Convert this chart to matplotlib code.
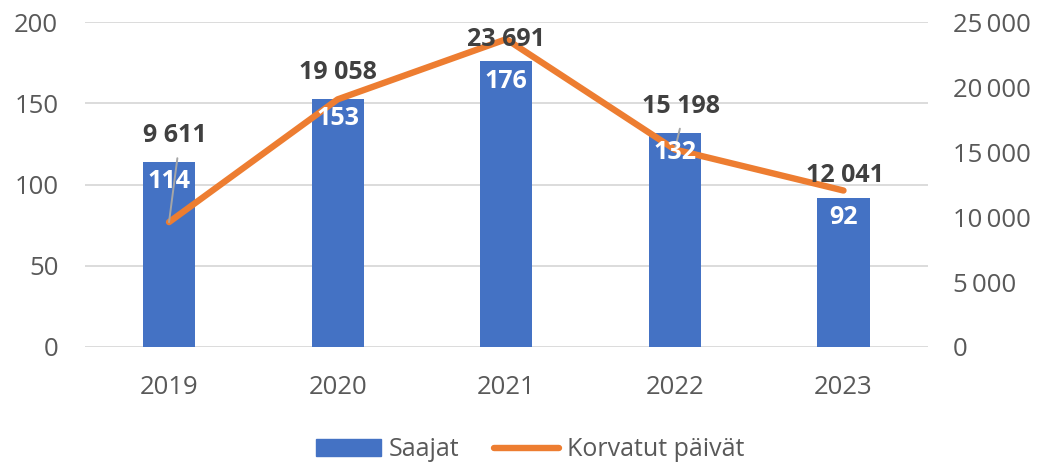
import matplotlib
matplotlib.use("Agg")
import matplotlib.pyplot as plt
from matplotlib.patches import Patch
from matplotlib.lines import Line2D

years = ["2019", "2020", "2021", "2022", "2023"]
saajat = [114, 153, 176, 132, 92]
korvatut = [9611, 19058, 23691, 15198, 12041]

plt.rcParams['font.family'] = ['Open Sans', 'DejaVu Sans']

BLUE = "#4472C4"
ORANGE = "#ED7D31"
GRAY = "#595959"
DARK = "#404040"

fig = plt.figure(figsize=(10.46, 4.62), dpi=100)
ax = fig.add_axes([0.081, 0.249, 0.806, 0.703])
ax2 = ax.twinx()

x = list(range(len(years)))
ax.bar(x, saajat, width=0.31, color=BLUE, zorder=2)
ax.set_ylim(0, 200)
ax.set_yticks([0, 50, 100, 150, 200])
ax.set_xlim(-0.5, len(years) - 0.5)
ax.set_xticks(x)
ax.set_xticklabels(years)
ax.grid(axis="y", color="#D9D9D9", linewidth=1.3, zorder=0)
ax.set_axisbelow(True)
for s in ax.spines.values():
    s.set_visible(False)
for s in ax2.spines.values():
    s.set_visible(False)
ax.tick_params(axis="y", length=0, labelsize=18.5, labelcolor=GRAY, pad=19)
ax.tick_params(axis="x", length=0, labelsize=18.5, labelcolor=GRAY, pad=20)

ax2.plot(x, korvatut, color=ORANGE, linewidth=4.6, solid_capstyle="round",
         solid_joinstyle="round", zorder=3)
ax2.set_ylim(0, 25000)
rt = [0, 5000, 10000, 15000, 20000, 25000]
ax2.set_yticks(rt)
ax2.set_yticklabels([f"{v:,}".replace(",", "\u2009") for v in rt])
ax2.tick_params(length=0, labelsize=18.5, labelcolor=GRAY, pad=18)

# line labels (offsets in points)
offsets = [(4, 62), (0, 19.5), (0, 0), (4.3, 31), (1, 10.5)]
leaders = [(6, 46), None, None, (3.6, 15), None]
for xi, v, off, ld in zip(x, korvatut, offsets, leaders):
    txt = f"{v:,}".replace(",", " ")
    if ld:
        ax2.annotate("", (xi, v), xytext=ld, textcoords="offset points",
                     arrowprops=dict(arrowstyle="-", color="#A6A6A6", lw=1.4,
                                     shrinkA=0, shrinkB=0),
                     zorder=4)
    ax2.annotate(txt, (xi, v), xytext=off, textcoords="offset points",
                 ha="center", va="center", color=DARK, fontsize=18,
                 fontweight="bold", zorder=6)

# bar labels (drawn on top of line)
for xi, v in zip(x, saajat):
    ax2.annotate(str(v), (xi, v), xycoords=ax.transData, xytext=(0, -14.5),
                 textcoords="offset points", ha="center", va="center",
                 color="white", fontsize=18, fontweight="bold", zorder=5)

handles = [Patch(facecolor=BLUE, edgecolor=BLUE),
           Line2D([0], [0], color=ORANGE, linewidth=4.6, solid_capstyle="round")]
fig.legend(handles, ["Saajat", "Korvatut päivät"], loc="center",
           bbox_to_anchor=(0.507, 0.026), ncol=2, frameon=False, fontsize=18,
           labelcolor=GRAY, handlelength=2.6, columnspacing=1.4,
           handletextpad=0.3, borderpad=0)

fig.savefig("out.png", dpi=100)
